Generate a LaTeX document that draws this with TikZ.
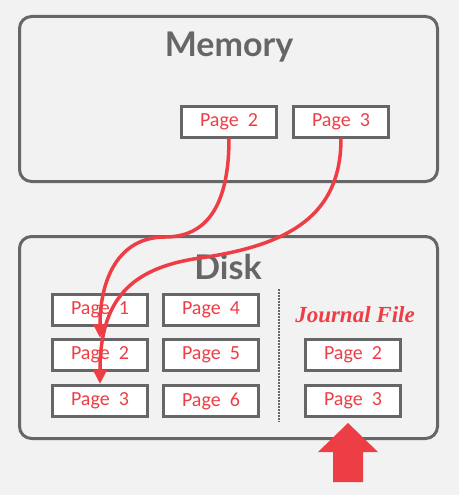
\documentclass[tikz,border=0pt]{standalone}
\usepackage{fontspec}
\setmainfont{Carlito}
\newfontfamily\titlefont{Lato}
\newfontfamily\journalfont{Liberation Serif}
\usetikzlibrary{arrows.meta}
\definecolor{slidebg}{HTML}{F2F2F2}
\definecolor{boxgray}{HTML}{666666}
\definecolor{pagered}{HTML}{EE3E45}

\begin{document}
\begin{tikzpicture}[x=1pt,y=-1pt,
  area/.style={draw=boxgray,line width=3pt,rounded corners=12pt,inner sep=0pt},
  page/.style={draw=boxgray,fill=white,line width=3pt,minimum width=95pt,minimum height=31pt,inner sep=0pt,text=pagered,font=\fontsize{20}{20}\selectfont},
  title/.style={text=boxgray,font=\titlefont\bfseries\fontsize{34}{34}\selectfont},
  write/.style={draw=pagered,line width=3.5pt,-{Triangle[width=13pt,length=14pt]}}]
\fill[slidebg] (0,0) rectangle (459,495);
\useasboundingbox (0,0) rectangle (459,495);

% memory
\node[area,minimum width=418pt,minimum height=165pt] (memory) at (228.5,99) {};
\node[title] (memlabel) at (229,47) {Memory};
\node[page] (m2) at (229,121.5) {Page\ \ 2};
\node[page] (m3) at (341,121.5) {Page\ \ 3};

% disk
\node[area,minimum width=418pt,minimum height=202pt] (disk) at (228.5,337.5) {};
\node[title] (disklabel) at (228,267) {Disk};
\node[page] (d1) at (100,309.5) {Page\ \ 1};
\node[page] (d2) at (100,355) {Page\ \ 2};
\node[page] (d3) at (100,401) {Page\ \ 3};
\node[page] (d4) at (211,309.5) {Page\ \ 4};
\node[page] (d5) at (211,355) {Page\ \ 5};
\node[page] (d6) at (211,401) {Page\ \ 6};
\draw[boxgray,line width=1.5pt,dash pattern=on 1.5pt off 1.5pt] (279,289) -- (279,422);

% journal
\node[text=pagered,font=\journalfont\bfseries\itshape\fontsize{23}{23}\selectfont] (jlabel) at (355,315) {Journal File};
\node[page] (j2) at (353,355) {Page\ \ 2};
\node[page] (j3) at (353,401) {Page\ \ 3};

% writes
\draw[write] (m2.south) .. controls (229,215) and (200,237) .. (165,237) .. controls (118,237) and (100,280) .. (d2.north);
\draw[write] (m3.south) .. controls (341,215) and (290,245) .. (200,258) .. controls (130,268) and (100,300) .. (d3.north);
\fill[pagered] (348,423) -- (378,452) -- (363,452) -- (363,482) -- (333,482) -- (333,452) -- (318,452) -- cycle;
\end{tikzpicture}
\end{document}
